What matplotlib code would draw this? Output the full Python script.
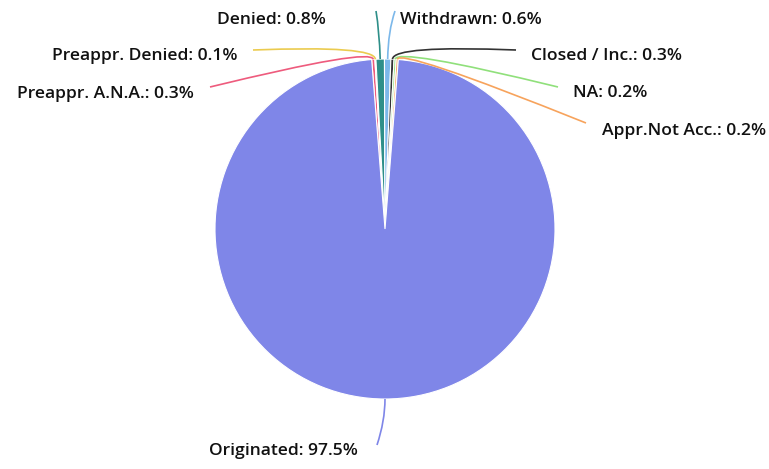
import numpy as np
import matplotlib
matplotlib.use('Agg')
import matplotlib.pyplot as plt
from matplotlib.path import Path
from matplotlib.patches import PathPatch

# data, clockwise from just left of 12 o'clock
labels = ['Preappr. A.N.A.', 'Preappr. Denied', 'Denied', 'Withdrawn',
          'Closed / Inc.', 'NA', 'Appr.Not Acc.', 'Originated']
values = [0.3, 0.1, 0.8, 0.6, 0.3, 0.2, 0.2, 97.5]
colors = ['#ee5b7d', '#ebcb4f', '#2e8f89', '#7cb8ea',
          '#333333', '#90e07b', '#f7a35c', '#7f86e8']

W, H = 769, 469
CX, CY, R = 385, 229, 170

# label layout in pixel coords (y down): text baseline anchor, alignment,
# leader end, elbow radius beyond the pie edge
LAYOUT = {
  'Preappr. A.N.A.': ((194, 98), 'right', (210, 87), 12),
  'Preappr. Denied': ((237, 60), 'right', (253, 50), 14),
  'Denied':          ((326, 24), 'right', (376, 11), 28),
  'Withdrawn':       ((400, 24), 'left', (395, 11), 28),
  'Closed / Inc.':   ((531, 60), 'left', (516, 50), 14),
  'NA':              ((573, 97), 'left', (558, 87), 12),
  'Appr.Not Acc.':   ((602, 135), 'left', (586, 123), 12),
  'Originated':      ((358, 455), 'right', (377, 445), 22),
}


def px(x, y):
  return x, H - y


fig = plt.figure(figsize=(W / 100, H / 100), dpi=100)
ax = fig.add_axes([0, 0, 1, 1])
wedges, _ = ax.pie(values, colors=colors, startangle=94.5, counterclock=False,
                   center=px(CX, CY), radius=R,
                   wedgeprops=dict(edgecolor='white', linewidth=0.8))
ax.set_xlim(0, W)
ax.set_ylim(0, H)
ax.set_aspect('equal')
ax.axis('off')

total = sum(values)
for w, lab, val, col in zip(wedges, labels, values, colors):
  (tx, ty), ha, (ex, ey), dr = LAYOUT[lab]
  mid = np.deg2rad((w.theta1 + w.theta2) / 2)
  cx, cy = px(CX, CY)
  p0 = (cx + R * np.cos(mid), cy + R * np.sin(mid))
  p1 = (cx + (R + dr) * np.cos(mid), cy + (R + dr) * np.sin(mid))
  p2 = px(ex, ey)
  path = Path([p0, p1, p2], [Path.MOVETO, Path.CURVE3, Path.CURVE3])
  ax.add_patch(PathPatch(path, fc='none', ec=col, lw=1.2))
  ax.text(*px(tx, ty), f'{lab}: {val / total * 100:.1f}%', ha=ha,
          va='baseline', fontsize=12.6, color='#111111',
          fontweight='semibold', family=['Open Sans', 'DejaVu Sans'])

fig.savefig('out.png', dpi=100)
